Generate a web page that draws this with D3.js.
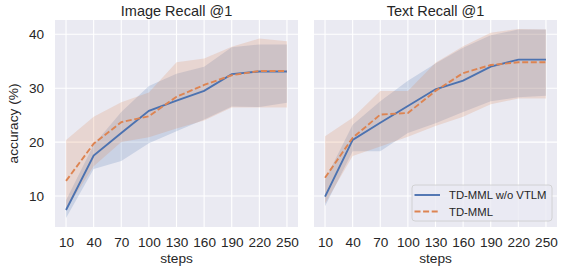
<!DOCTYPE html>
<html>
<head>
<meta charset="utf-8">
<script src="https://cdn.jsdelivr.net/npm/d3@7"></script>
<style>
  body { margin: 0; background: #fff; }
  svg { display: block; font-family: "Liberation Sans", Arial, sans-serif; }
</style>
</head>
<body>
<svg width="562" height="266"></svg>
<script>
// data
var steps = [10, 40, 70, 100, 130, 160, 190, 220, 250];
var seriesNames = ["TD-MML w/o VTLM", "TD-MML"];
var titles = ["Image Recall @1", "Text Recall @1"];
var yTicks = [10, 20, 30, 40];

// Image Recall @1
var imgBlue     = [7.4, 17.5, 21.7, 25.8, 27.7, 29.5, 32.6, 33.1, 33.1];
var imgBlueLo   = [5.9, 15.0, 16.5, 19.8, 22.0, 24.2, 26.6, 26.5, 27.3];
var imgBlueHi   = [9.2, 19.5, 25.6, 30.4, 32.7, 34.0, 37.6, 38.1, 38.1];
var imgOrange   = [12.8, 19.7, 23.7, 24.8, 28.4, 30.6, 32.4, 33.2, 33.2];
var imgOrangeLo = [7.5, 15.5, 20.0, 20.9, 22.5, 24.0, 26.4, 26.4, 26.4];
var imgOrangeHi = [20.4, 24.7, 27.4, 29.2, 34.8, 35.5, 37.7, 39.2, 38.7];

// Text Recall @1
var txtBlue     = [9.9, 20.4, 23.6, 26.7, 29.8, 31.4, 34.0, 35.3, 35.3];
var txtBlueLo   = [8.1, 18.3, 18.3, 21.7, 23.5, 25.6, 27.6, 28.3, 28.6];
var txtBlueHi   = [13.0, 23.2, 27.6, 31.4, 34.6, 37.5, 39.8, 40.9, 40.9];
var txtOrange   = [13.4, 20.8, 25.1, 25.4, 29.5, 32.8, 34.3, 34.8, 34.8];
var txtOrangeLo = [8.6, 17.4, 19.2, 21.0, 23.0, 24.7, 27.0, 28.1, 28.1];
var txtOrangeHi = [21.1, 24.5, 29.5, 29.5, 34.7, 37.8, 40.3, 41.0, 40.9];

var panels = [
  { title: titles[0], left: 55, series: [
    { mean: imgBlue, lo: imgBlueLo, hi: imgBlueHi },
    { mean: imgOrange, lo: imgOrangeLo, hi: imgOrangeHi } ] },
  { title: titles[1], left: 314, series: [
    { mean: txtBlue, lo: txtBlueLo, hi: txtBlueHi },
    { mean: txtOrange, lo: txtOrangeLo, hi: txtOrangeHi } ] }
];

var colors = ["#4C72B0", "#DD8452"];
var dashes = [null, "6,2.6"];

var svg = d3.select("svg");
// plot box size and its top edge
var pw = 243, plotTop = 20, ph = 207;

var x = d3.scaleLinear().domain([-2, 262]).range([0, pw]);
var y = d3.scaleLinear().domain([4.25, 42.65]).range([ph, 0]);

panels.forEach(function(p, pi) {
  var g = svg.append("g").attr("transform", "translate(" + p.left + "," + plotTop + ")");

  g.append("rect").attr("width", pw).attr("height", ph).attr("fill", "#EAEAF2");

  // grid
  g.selectAll(".gx").data(steps).enter().append("line")
    .attr("x1", function(d) { return x(d); }).attr("x2", function(d) { return x(d); })
    .attr("y1", 0).attr("y2", ph)
    .attr("stroke", "#fff").attr("stroke-width", 1.1);
  g.selectAll(".gy").data(yTicks).enter().append("line")
    .attr("y1", function(d) { return y(d); }).attr("y2", function(d) { return y(d); })
    .attr("x1", 0).attr("x2", pw)
    .attr("stroke", "#fff").attr("stroke-width", 1.1);

  // bands first, then lines
  p.series.forEach(function(s, si) {
    var area = d3.area()
      .x(function(d, i) { return x(steps[i]); })
      .y0(function(d, i) { return y(s.lo[i]); })
      .y1(function(d, i) { return y(s.hi[i]); });
    g.append("path").datum(s.mean).attr("d", area)
      .attr("fill", colors[si]).attr("fill-opacity", 0.2);
  });
  p.series.forEach(function(s, si) {
    var line = d3.line()
      .x(function(d, i) { return x(steps[i]); })
      .y(function(d) { return y(d); });
    g.append("path").datum(s.mean).attr("d", line)
      .attr("fill", "none").attr("stroke", colors[si])
      .attr("stroke-width", 1.9)
      .attr("stroke-dasharray", dashes[si]);
  });

  // axes (no ticks, just labels)
  var xa = g.append("g").attr("transform", "translate(0," + ph + ")")
    .call(d3.axisBottom(x).tickValues(steps).tickSize(0).tickPadding(10));
  xa.select(".domain").remove();
  xa.selectAll("text").attr("font-size", 13.6).attr("fill", "#262626")
    .attr("font-family", "Liberation Sans, Arial, sans-serif");

  if (pi === 0) {
    var ya = g.append("g")
      .call(d3.axisLeft(y).tickValues(yTicks).tickSize(0).tickPadding(11));
    ya.select(".domain").remove();
    ya.selectAll("text").attr("font-size", 13.6).attr("fill", "#262626")
      .attr("font-family", "Liberation Sans, Arial, sans-serif");
    g.append("text")
      .attr("transform", "translate(-37," + (ph / 2) + ") rotate(-90)")
      .attr("text-anchor", "middle").attr("font-size", 13.7).attr("fill", "#262626")
      .text("accuracy (%)");
  }

  g.append("text").attr("x", pw / 2).attr("y", 263 - plotTop)
    .attr("text-anchor", "middle").attr("font-size", 13.7).attr("fill", "#262626")
    .text("steps");

  g.append("text").attr("x", pw / 2).attr("y", -4)
    .attr("text-anchor", "middle").attr("font-size", 14.5).attr("fill", "#262626")
    .text(p.title);

  // legend in second panel
  if (pi === 1) {
    var lg = g.append("g").attr("transform", "translate(" + (412 - p.left) + "," + (185 - plotTop) + ")");
    lg.append("rect").attr("width", 140).attr("height", 36).attr("rx", 3)
      .attr("fill", "#EAEAF2").attr("fill-opacity", 0.8)
      .attr("stroke", "#cccccc").attr("stroke-width", 0.8);
    seriesNames.forEach(function(name, i) {
      var row = lg.append("g").attr("transform", "translate(0," + (10 + i * 16.5) + ")");
      row.append("line").attr("x1", 2.5).attr("x2", 28).attr("y1", 0).attr("y2", 0)
        .attr("stroke", colors[i]).attr("stroke-width", 1.9)
        .attr("stroke-dasharray", dashes[i]);
      row.append("text").attr("x", 37).attr("y", 0).attr("dy", "0.36em")
        .attr("font-size", 11.3).attr("fill", "#262626").text(name);
    });
  }
});
</script>
</body>
</html>
